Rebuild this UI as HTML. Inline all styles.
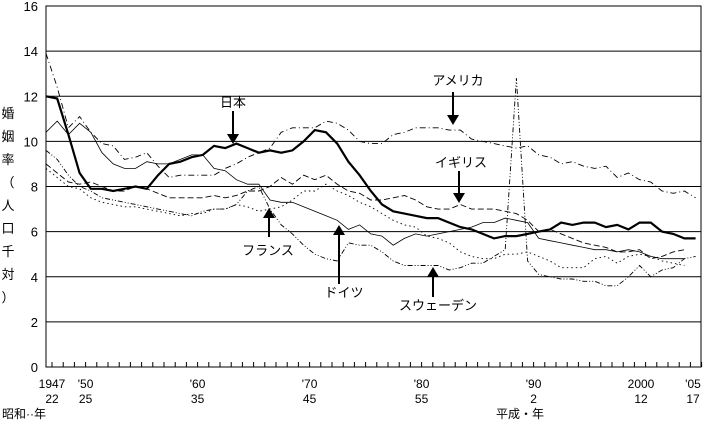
<!DOCTYPE html>
<html><head><meta charset="utf-8"><style>
body{margin:0;background:#fff;}
svg{display:block;font-family:"Liberation Sans","Noto Sans CJK JP",sans-serif;}
</style></head><body>
<svg id="chart" width="705" height="421" viewBox="0 0 705 421"></svg>
<script>
const years=[];for(let y=1947;y<=2005;y++)years.push(y);
const japan=[12.0,11.9,10.3,8.6,7.9,7.9,7.8,7.9,8.0,7.9,8.5,9.0,9.1,9.3,9.4,9.8,9.7,9.9,9.7,9.5,9.6,9.5,9.6,10.0,10.5,10.4,9.9,9.1,8.5,7.8,7.2,6.9,6.8,6.7,6.6,6.6,6.4,6.2,6.1,5.9,5.7,5.8,5.8,5.9,6.0,6.1,6.4,6.3,6.4,6.4,6.2,6.3,6.1,6.4,6.4,6.0,5.9,5.7,5.7];
const usa=[13.9,12.4,10.6,11.1,10.4,9.9,9.8,9.2,9.3,9.5,8.9,8.4,8.5,8.5,8.5,8.5,8.8,9.0,9.3,9.5,9.7,10.4,10.6,10.6,10.6,10.9,10.8,10.5,10.0,9.9,9.9,10.3,10.4,10.6,10.6,10.6,10.5,10.5,10.1,10.0,9.9,9.8,9.7,9.8,9.4,9.3,9.0,9.1,8.9,8.8,8.9,8.4,8.6,8.3,8.2,7.8,7.7,7.8,7.5];
const uk=[9.0,8.6,8.2,8.1,8.2,8.0,7.8,7.8,8.0,7.9,7.7,7.5,7.5,7.5,7.5,7.6,7.5,7.6,7.8,7.8,8.0,8.4,8.1,8.5,8.3,8.5,8.1,7.8,7.7,7.4,7.4,7.5,7.6,7.4,7.1,7.0,7.0,7.2,7.0,7.0,7.0,6.9,6.8,6.5,6.0,6.1,5.9,5.7,5.5,5.4,5.3,5.1,5.1,5.2,4.8,4.9,5.1,5.2,null];
const germany=[10.4,10.9,10.3,10.8,10.4,9.5,9.0,8.8,8.8,9.1,9.0,9.0,9.2,9.4,9.4,8.8,8.7,8.3,8.1,8.1,7.4,7.3,7.3,7.1,6.9,6.7,6.5,6.1,6.3,5.9,5.8,5.4,5.7,5.9,5.8,5.9,6.0,6.1,6.2,6.4,6.4,6.6,6.5,6.4,5.7,5.6,5.5,5.4,5.3,5.2,5.2,5.1,5.2,5.1,4.9,4.8,4.8,4.8,null];
const france=[8.8,8.4,8.0,7.9,7.5,7.3,7.2,7.1,7.1,7.0,6.9,6.8,6.7,6.8,6.8,7.0,7.0,7.2,7.1,6.9,7.0,7.1,7.4,7.8,7.8,8.1,7.8,7.6,7.3,7.1,6.8,6.5,6.3,6.2,5.8,5.7,5.5,5.1,4.9,4.8,4.8,5.0,5.0,5.1,4.9,4.7,4.4,4.4,4.4,4.8,4.9,4.6,4.9,5.0,4.9,4.7,4.6,4.5,null];
const sweden=[9.6,9.2,8.5,8.0,7.8,7.5,7.4,7.3,7.2,7.1,7.0,6.9,6.8,6.7,6.9,7.0,7.0,7.2,7.8,8.0,7.0,6.3,5.9,5.4,5.0,4.8,4.7,5.5,5.4,5.4,5.1,4.7,4.5,4.5,4.5,4.5,4.3,4.4,4.6,4.6,4.9,5.2,12.8,4.7,4.1,4.0,3.9,3.9,3.8,3.8,3.6,3.6,4.0,4.5,4.0,4.3,4.4,4.8,4.9];
const yTicks=[0,2,4,6,8,10,12,14,16];
const xLabelYears=[1947,1950,1960,1970,1980,1990,2000,2005];
const xLabelTop=["1947","'50","'60","'70","'80","'90","2000","'05"];
const xLabelBot=["22","25","35","45","55","2","12","17"];

const L=46,R=701,T=6,B=367;
const x=yr=>L+(yr-1947)*11.2;
const y=v=>B-v*(B-T)/16;
const svg=document.getElementById('chart');
const NS='http://www.w3.org/2000/svg';
function mk(tag,attrs,parent){const e=document.createElementNS(NS,tag);for(const k in attrs)e.setAttribute(k,attrs[k]);(parent||svg).appendChild(e);return e;}

yTicks.forEach(v=>{
  if(v>0&&v<16){const g=mk('line',{x1:L,x2:R,y1:y(v),y2:y(v),stroke:'#000','stroke-width':1});
  
  }
  const t=mk('text',{x:38,y:y(v)+5,'text-anchor':'end','font-size':13});
  t.textContent=v;
  
  
});
const frame=mk('rect',{x:L,y:T,width:R-L,height:B-T,fill:'none',stroke:'#000','stroke-width':1});


years.forEach(yr=>{const t=mk('line',{x1:x(yr)+6,x2:x(yr)+6,y1:B,y2:B-5,stroke:'#000'});

});
xLabelYears.forEach((yr,i)=>{
  let cx=yr===1947?52:x(yr)+6;
  if(yr===2005)cx=693;
  if(yr===2000)cx=641;
  const a=mk('text',{x:cx,y:388,'text-anchor':'middle','font-size':12});a.textContent=xLabelTop[i];
  
  
  const b=mk('text',{x:cx,y:403,'text-anchor':'middle','font-size':12});b.textContent=xLabelBot[i];
  
  
});
const s1=mk('text',{x:2,y:418,'font-size':12});s1.textContent='昭和··年';


const s2=mk('text',{x:496,y:418,'font-size':12});s2.textContent='平成・年';


const yt="婚姻率（人口千対）";
for(let i=0;i<yt.length;i++){const c=mk('text',{x:8,y:118+i*23,'text-anchor':'middle','font-size':13});c.textContent=yt[i];

}

function series(data,name,w,dash){
  let d='';let started=false;
  data.forEach((v,i)=>{if(v==null)return;d+=(started?'L':'M')+x(years[i]).toFixed(1)+','+y(v).toFixed(1);started=true;});
  const p=mk('path',{d:d,fill:'none',stroke:'#000','stroke-width':w});
  if(dash)p.setAttribute('stroke-dasharray',dash);
  
  
}
series(germany,'line-germany',0.8,null);
series(uk,'line-uk',0.9,'6 3');
series(france,'line-france',0.9,'1.5 3');
series(sweden,'line-sweden',0.9,'5 2 1 2 1 2');
series(usa,'line-usa',0.9,'6 3 1 3');
series(japan,'line-japan',2.2,null);

function ann(text,tx,ty,ax,y1,y2,name){
  const t=mk('text',{x:tx,y:ty,'text-anchor':'middle','font-size':13});t.textContent=text;
  
  
  const dir=y2>y1?1:-1;
  const l=mk('line',{x1:ax,x2:ax,y1:y1,y2:y2-dir*9,stroke:'#000','stroke-width':2});
  
  
  const h=mk('polygon',{points:`${ax-6},${y2-dir*10} ${ax+6},${y2-dir*10} ${ax},${y2}`,fill:'#000'});
  
  
}
ann('日本',233,107,233,111,144,'japan');
ann('アメリカ',458,85,453,92,125,'usa');
ann('イギリス',461,167,459,171,203,'uk');
ann('フランス',268,255,269,237,208,'france');
ann('ドイツ',344,297,339,284,225,'germany');
ann('スウェーデン',438,310,433,297,267,'sweden');
</script>
</body></html>
